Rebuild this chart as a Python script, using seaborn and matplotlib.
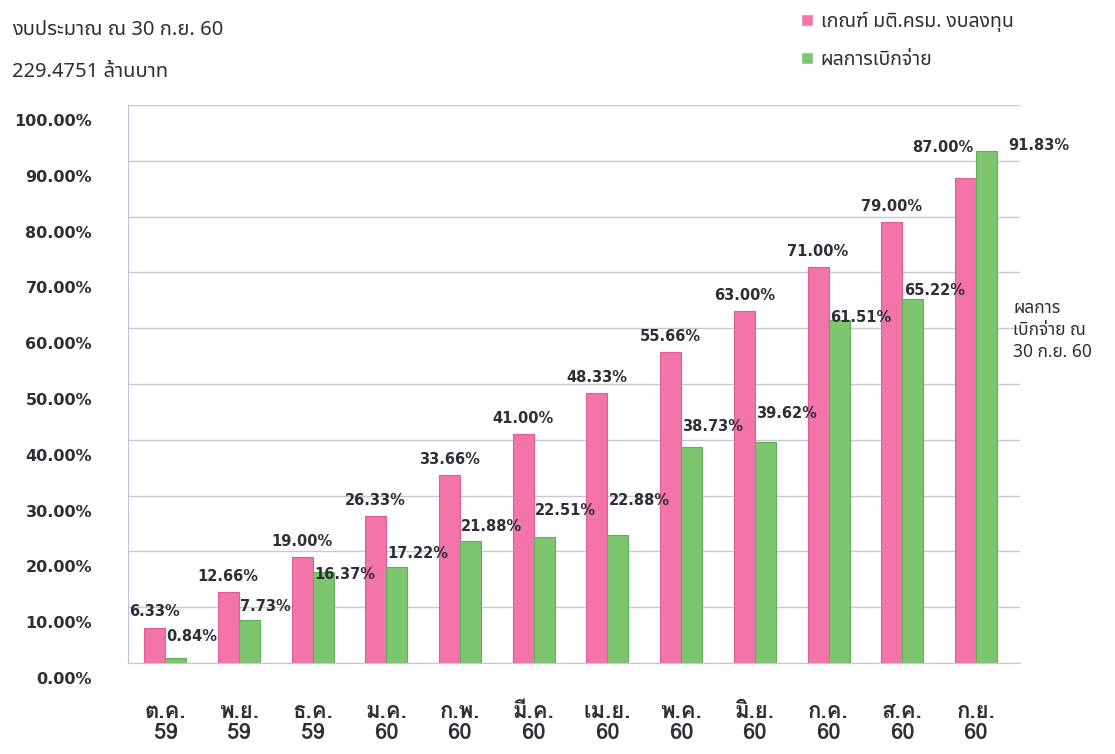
import numpy as np
import pandas as pd
import matplotlib
matplotlib.use("Agg")
import matplotlib.pyplot as plt
import matplotlib.transforms as mtransforms
import seaborn as sns
from matplotlib import font_manager
from matplotlib.ft2font import FT2Font

# data
months = ["ต.ค.\n59", "พ.ย.\n59", "ธ.ค.\n59", "ม.ค.\n60", "ก.พ.\n60", "มี.ค.\n60",
          "เม.ย.\n60", "พ.ค.\n60", "มิ.ย.\n60", "ก.ค.\n60", "ส.ค.\n60", "ก.ย.\n60"]
target = [6.33, 12.66, 19.00, 26.33, 33.66, 41.00, 48.33, 55.66, 63.00, 71.00, 79.00, 87.00]
actual = [0.84, 7.73, 16.37, 17.22, 21.88, 22.51, 22.88, 38.73, 39.62, 61.51, 65.22, 91.83]
series_names = ["เกณฑ์ มติ.ครม. งบลงทุน", "ผลการเบิกจ่าย"]

# where the green value labels sit (in % units), they were moved by hand in the original
green_label_y = [4.7, 10.2, 15.8, 19.7, 24.4, 27.4, 29.2, 42.3, 44.8, 62.0, 66.8, 92.8]

PREF = ["Tahoma", "Noto Sans Thai", "Noto Sans Thai UI", "Loma", "Garuda", "Sarabun"]


def thai_fonts():
    weights = {}
    for f in font_manager.fontManager.ttflist:
        try:
            if 0x0E01 in FT2Font(f.fname).get_charmap():
                w = f.weight if isinstance(f.weight, int) else 400
                weights.setdefault(f.name, set()).add(w)
        except Exception:
            pass
    if not weights:
        return None, None
    names = list(weights)
    regular = next((p for p in PREF if p in names), names[0])
    with_bold = [n for n in names if max(weights[n]) >= 600]
    bold = next((p for p in PREF if p in with_bold), with_bold[0] if with_bold else regular)
    return regular, bold


sns.set_style("white")
th_reg, th_bold = thai_fonts()
# thai text needs the thai font first, otherwise the tone marks drift
plt.rcParams["font.family"] = ([th_reg] if th_reg else []) + ["DejaVu Sans"]
bold_fams = ([th_bold] if th_bold else []) + ["DejaVu Sans"]
num_font = "DejaVu Sans"

pink = "#F274A9"
green = "#7DC56F"
txt = "#2E2E38"

df = pd.DataFrame({
    "month": months * 2,
    "value": target + actual,
    "series": [series_names[0]] * 12 + [series_names[1]] * 12,
})

fig = plt.figure(figsize=(11.15, 7.54), dpi=100)
ax = fig.add_axes([0.115, 0.1207, 0.80, 0.74])

sns.barplot(data=df, x="month", y="value", hue="series", order=months,
            hue_order=series_names, palette=[pink, green], width=0.57,
            saturation=1, ax=ax, legend=True)

for cont, col in zip(ax.containers, ["#DC5E92", "#63AC5A"]):
    for b in cont:
        b.set_edgecolor(col)
        b.set_linewidth(0.8)

ax.set_ylim(0, 100)
ax.set_xlim(-0.5, 11.6)
yt = np.arange(0, 101, 10)
ax.set_yticks(yt)
ax.set_yticklabels([f"{v:.2f}%" for v in yt])
ax.yaxis.grid(True, color="#C9C6D6", linewidth=1)
ax.set_axisbelow(True)
ax.set_xlabel("")
ax.set_ylabel("")
for s in ["top", "right"]:
    ax.spines[s].set_visible(False)
ax.spines["left"].set_color("#CDBCDC")
ax.spines["bottom"].set_color("#C9C6D6")

ax.tick_params(axis="y", length=0, pad=26, labelsize=11.5, labelcolor=txt)
ax.tick_params(axis="x", length=0, pad=28, labelsize=16, labelcolor=txt)
for lb in ax.get_yticklabels():
    lb.set_fontweight("bold")
    lb.set_family(num_font)
for lb in ax.get_xticklabels():
    lb.set_fontweight("bold")
    lb.set_family(bold_fams)
    lb.set_linespacing(1.05)

# y labels sit a bit below their gridlines, like the 3D original
shift = mtransforms.ScaledTranslation(0, -15 / 100, fig.dpi_scale_trans)
for t in ax.yaxis.get_major_ticks():
    t.label1.set_transform(t.label1.get_transform() + shift)

# value labels
n = len(target)
for i, (b, v) in enumerate(zip(ax.containers[0], target)):
    if i == n - 1:
        xy, off, ha = (b.get_x() + b.get_width(), b.get_height()), (-2, 16), "right"
    else:
        xy, off, ha = (b.get_x() + b.get_width() / 2, b.get_height()), (0, 6), "center"
    ax.annotate(f"{v:.2f}%", xy, xytext=off, textcoords="offset points", ha=ha,
                va="bottom", fontsize=10.5, fontweight="bold", color=txt,
                family=num_font)
for i, (b, v) in enumerate(zip(ax.containers[1], actual)):
    if i == n - 1:
        x0, dx = b.get_x() + b.get_width(), 8
    else:
        x0, dx = b.get_x(), 1
    ax.annotate(f"{v:.2f}%", (x0, green_label_y[i]), xytext=(dx, 0),
                textcoords="offset points", ha="left", va="center",
                fontsize=10.5, fontweight="bold", color=txt, family=num_font)

ax.text(0.992, 0.597, "ผลการ\nเบิกจ่าย ณ\n30 ก.ย. 60", transform=ax.transAxes,
        ha="left", va="center", fontsize=12.5, color=txt, linespacing=1.3)

# title text at top left
fig.text(0.011, 0.96, "งบประมาณ ณ 30 ก.ย. 60", ha="left", va="center",
         fontsize=14.5, color=txt)
fig.text(0.011, 0.905, "229.4751 ล้านบาท", ha="left", va="center",
         fontsize=14.5, color=txt)

handles, labels = ax.get_legend_handles_labels()
ax.get_legend().remove()
fig.legend(handles, labels, loc="upper left", bbox_to_anchor=(0.703, 1.008),
           frameon=False, fontsize=14, labelspacing=0.95, handlelength=0.6,
           handleheight=0.6, handletextpad=0.4, labelcolor=txt)

fig.savefig("out.png", dpi=100)
